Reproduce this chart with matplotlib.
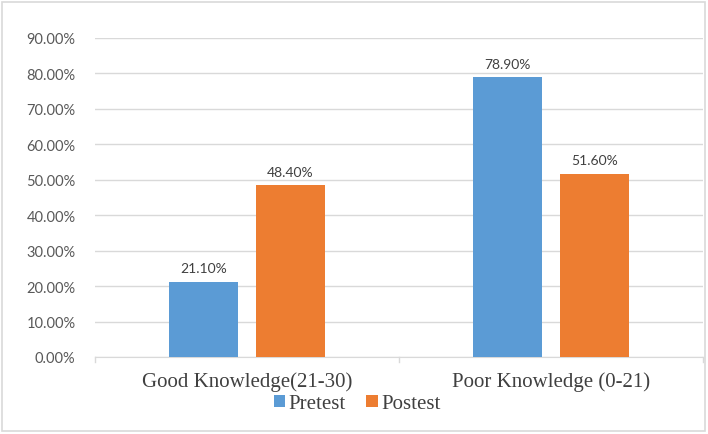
import numpy as np
import matplotlib.pyplot as plt
from matplotlib.patches import Rectangle

categories = ['Good Knowledge(21-30)', 'Poor Knowledge (0-21)']
pretest = [21.10, 78.90]
postest = [48.40, 51.60]
yticks = [0, 10, 20, 30, 40, 50, 60, 70, 80, 90]

blue = '#5B9BD5'
orange = '#ED7D31'

fig = plt.figure(figsize=(7.08, 4.35), dpi=100)
fig.patches.append(Rectangle((2 / 708, 3 / 435), 703 / 708, 429 / 435, transform=fig.transFigure,
                             fill=False, edgecolor='#D9D9D9', linewidth=1.2))

ax = fig.add_axes([95 / 708, 1 - 358 / 435, 608 / 708, 319 / 435])

x = np.arange(len(categories))
w = 0.224
off = 0.143
b1 = ax.bar(x - off, pretest, w, color=blue, label='Pretest', zorder=3)
b2 = ax.bar(x + off, postest, w, color=orange, label='Postest', zorder=3)

for bars, vals in ((b1, pretest), (b2, postest)):
    for r, v in zip(bars, vals):
        ax.text(r.get_x() + r.get_width() / 2, v + 2.2, '%.2f%%' % v, ha='center', va='bottom',
                fontsize=10, color='#404040', family='Lato')

ax.set_xlim(-0.5, 1.5)
ax.set_ylim(0, 90)
ax.set_yticks(yticks)
ax.set_yticklabels(['%.2f%%' % t for t in yticks], fontsize=10.5, color='#595959', family='Lato')
ax.yaxis.grid(True, color='#D9D9D9', linewidth=1, zorder=0)
ax.tick_params(axis='y', length=0, pad=14)

ax.set_xticks(x)
ax.set_xticklabels(categories, fontsize=15, color='#404040', family='Liberation Serif')
ax.tick_params(axis='x', length=0, pad=10)
for xv in (-0.5, 0.5, 1.5):
    ax.plot([xv, xv], [0, -1.5], color='#D9D9D9', lw=1, clip_on=False)

for s in ('top', 'right', 'left'):
    ax.spines[s].set_visible(False)
ax.spines['bottom'].set_color('#D9D9D9')

fig.legend(handles=[b1, b2], loc='center', bbox_to_anchor=(357 / 708, 1 - 405 / 435), ncol=2,
           frameon=False, prop={'family': 'Liberation Serif', 'size': 15},
           handlelength=0.55, handleheight=0.55, handletextpad=0.15, columnspacing=1.0,
           labelcolor='#404040')

fig.savefig('out.png', dpi=100)
